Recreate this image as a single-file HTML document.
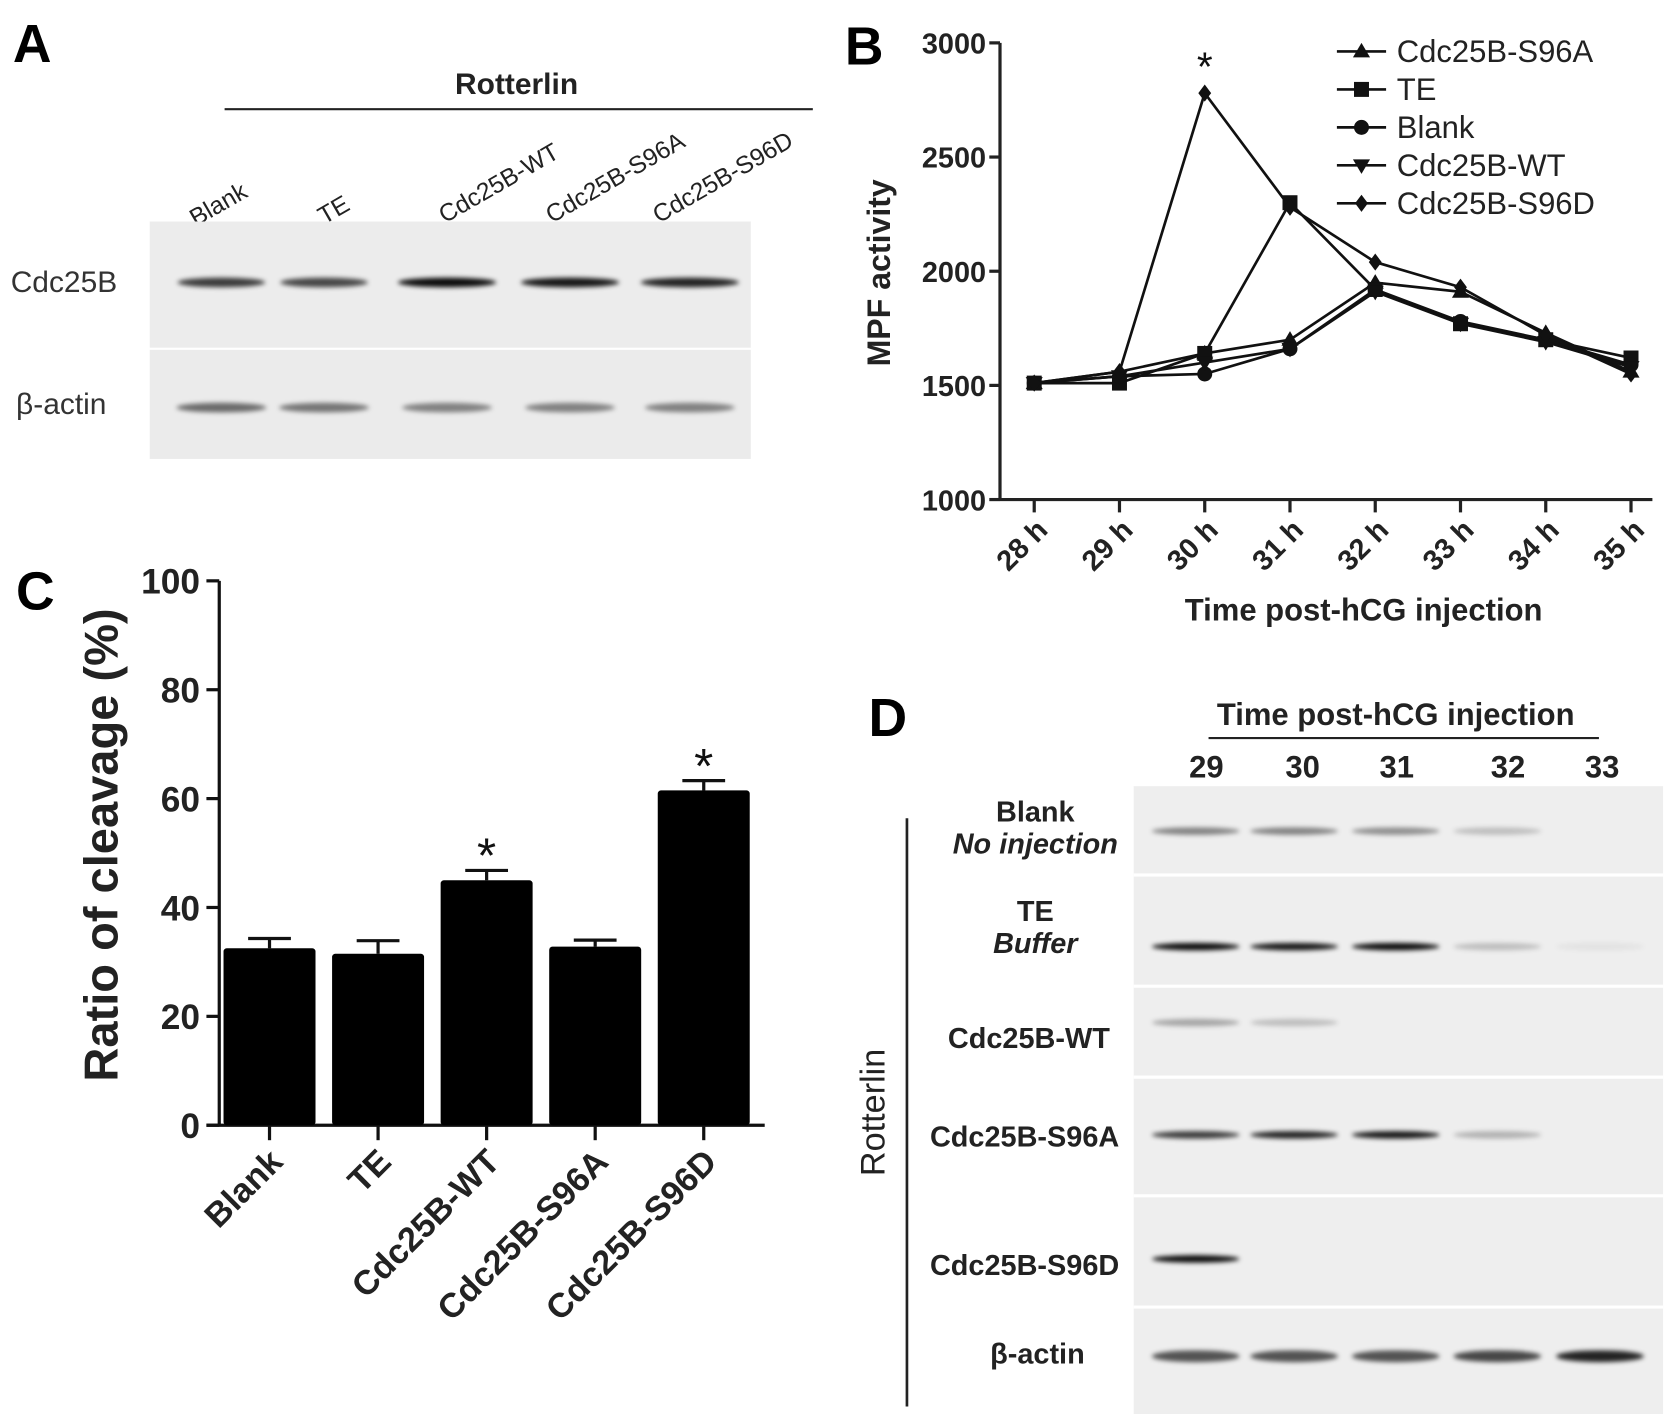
<!DOCTYPE html>
<html><head><meta charset="utf-8">
<style>
html,body{margin:0;padding:0;background:#fff;}
svg{display:block;font-family:"Liberation Sans",Arial,sans-serif;}
</style></head>
<body>
<svg id="fig" width="1677" height="1428" viewBox="0 0 1568 1335" xmlns="http://www.w3.org/2000/svg">
<defs>
<filter id="blur" x="-20%" y="-200%" width="140%" height="500%"><feGaussianBlur stdDeviation="2.2"/></filter>
</defs>
<!-- Panel A -->
<g>
<text x="12" y="58" font-size="50" font-weight="bold">A</text>
<text x="483" y="88" font-size="28" text-anchor="middle" font-weight="bold" fill="#222">Rotterlin</text>
<line x1="210" y1="102" x2="760" y2="102" stroke="#222" stroke-width="2"/>
<g font-size="23" fill="#222">
<text transform="translate(183,212) rotate(-30)">Blank</text>
<text transform="translate(303,210) rotate(-30)">TE</text>
<text transform="translate(416,209) rotate(-30)">Cdc25B-WT</text>
<text transform="translate(516,209) rotate(-30)">Cdc25B-S96A</text>
<text transform="translate(616,209) rotate(-30)">Cdc25B-S96D</text>
</g>
<rect x="140" y="207" width="562" height="118" fill="#ececec"/>
<rect x="140" y="327" width="562" height="102" fill="#ebebeb"/>
<text x="10" y="273" font-size="28" fill="#333">Cdc25B</text>
<text x="15" y="387" font-size="28" fill="#333">β-actin</text>
<g id="bandsA" filter="url(#blur)"></g>
</g>

<!-- Panel B -->
<g>
<text x="790" y="60" font-size="50" font-weight="bold">B</text>
<g id="chartB"></g>
</g>

<!-- Panel C -->
<g>
<text x="15" y="570" font-size="50" font-weight="bold">C</text>
<g id="chartC"></g>
</g>

<!-- Panel D -->
<g>
<text x="812" y="688" font-size="50" font-weight="bold">D</text>
<text x="1305" y="678" font-size="29" text-anchor="middle" font-weight="bold" fill="#222">Time post-hCG injection</text>
<line x1="1130" y1="690" x2="1495" y2="690" stroke="#222" stroke-width="2"/>
<rect x="1060" y="735" width="495" height="587" fill="#eeeeee"/>
<g stroke="#fff" stroke-width="3">
<line x1="1060" y1="818" x2="1555" y2="818"/><line x1="1060" y1="922" x2="1555" y2="922"/>
<line x1="1060" y1="1007" x2="1555" y2="1007"/><line x1="1060" y1="1118" x2="1555" y2="1118"/>
<line x1="1060" y1="1222" x2="1555" y2="1222"/>
</g>
<line x1="848" y1="765" x2="848" y2="1315" stroke="#222" stroke-width="2.5"/>
<text transform="translate(827,1040) rotate(-90)" font-size="32" text-anchor="middle" fill="#222">Rotterlin</text>
<g font-size="27" text-anchor="middle" font-weight="bold" fill="#222">
<text x="968" y="768">Blank</text>
<text x="968" y="798" font-style="italic">No injection</text>
<text x="968" y="861">TE</text>
<text x="968" y="891" font-style="italic">Buffer</text>
<text x="962" y="980">Cdc25B-WT</text>
<text x="958" y="1072">Cdc25B-S96A</text>
<text x="958" y="1192">Cdc25B-S96D</text>
<text x="970" y="1275">β-actin</text>
</g>
<g id="lanesD" font-size="29" text-anchor="middle" font-weight="bold" fill="#222"></g>
<g id="bandsD" filter="url(#blur)"></g>
</g>
</svg>
<script>
var NS="http://www.w3.org/2000/svg";
function mk(tag,attrs,parent){var e=document.createElementNS(NS,tag);for(var k in attrs)e.setAttribute(k,attrs[k]);parent.appendChild(e);return e;}

// ---------- Chart B data ----------
var timeLabels=["28 h","29 h","30 h","31 h","32 h","33 h","34 h","35 h"];
var bTicks=[1000,1500,2000,2500,3000];
var seriesNames=["Cdc25B-S96A","TE","Blank","Cdc25B-WT","Cdc25B-S96D"];
var seriesMarkers=["tri","sq","circ","itri","diam"];
var s96aVals=[1510,1560,1640,1700,1950,1910,1730,1560];
var teVals=[1510,1510,1640,2300,1920,1770,1700,1620];
var blankVals=[1510,1540,1550,1660,1920,1780,1700,1590];
var wtVals=[1510,1540,1600,1660,1910,1770,1690,1580];
var s96dVals=[1510,1560,2780,2280,2040,1930,1720,1550];
var allSeries=[s96aVals,teVals,blankVals,wtVals,s96dVals];

// ---------- Chart C data ----------
var cCats=["Blank","TE","Cdc25B-WT","Cdc25B-S96A","Cdc25B-S96D"];
var cVals=[32.5,31.5,45,32.8,61.5];
var cErr=[1.8,2.4,1.8,1.2,1.8];
var cSig=[false,false,true,false,true];
var cTicks=[0,20,40,60,80,100];

// ---------- Blot data ----------
var bandsACdc=[0.75,0.7,0.95,0.9,0.85];
var bandsAActin=[0.55,0.5,0.45,0.45,0.45];
var dLanes=["29","30","31","32","33"];
var dBlank=[0.45,0.45,0.4,0.2,0];
var dTE=[0.95,0.9,0.95,0.2,0.05];
var dWT=[0.3,0.2,0,0,0];
var dS96A=[0.75,0.85,0.9,0.25,0];
var dS96D=[0.95,0,0,0,0];
var dActin=[0.65,0.65,0.65,0.7,0.85];

// ----- Chart B -----
(function(){
var g=document.getElementById('chartB');
var X0=967,X1=1525,Y0=467,Y1=40,ax=935;
function x(i){return X0+(X1-X0)*i/(timeLabels.length-1);}
function y(v){return Y0-(v-1000)/2000*(Y0-Y1);}
var axes=mk('g',{},g);


mk('line',{x1:ax,y1:y(3000),x2:ax,y2:Y0,stroke:'#222','stroke-width':3},axes);
mk('line',{x1:ax,y1:Y0,x2:1545,y2:Y0,stroke:'#222','stroke-width':3},axes);
bTicks.forEach(function(t){
 mk('line',{x1:ax-10,y1:y(t),x2:ax,y2:y(t),stroke:'#222','stroke-width':3},axes);
 var tx=mk('text',{x:ax-13,y:y(t)+10,'font-size':27,'font-weight':'bold','text-anchor':'end',fill:'#222'},axes);tx.textContent=t;
 
 
});
timeLabels.forEach(function(l,i){
 mk('line',{x1:x(i),y1:Y0,x2:x(i),y2:Y0+12,stroke:'#222','stroke-width':3},axes);
 var tx=mk('text',{transform:'translate('+(x(i)+14)+','+(Y0+30)+') rotate(-45)','font-size':27,'font-weight':'bold','text-anchor':'end',fill:'#222'},axes);tx.textContent=l;
 
 
});
var yl=mk('text',{transform:'translate(832,255) rotate(-90)','font-size':30,'font-weight':'bold','text-anchor':'middle',fill:'#222'},g);yl.textContent='MPF activity';


var xl=mk('text',{x:1275,y:580,'font-size':29,'font-weight':'bold','text-anchor':'middle',fill:'#222'},g);xl.textContent='Time post-hCG injection';


function marker(type,cx,cy,par){
 var s=8;
 if(type=='tri')return mk('polygon',{points:(cx)+','+(cy-s)+' '+(cx-s)+','+(cy+s*0.7)+' '+(cx+s)+','+(cy+s*0.7),fill:'#111'},par);
 if(type=='itri')return mk('polygon',{points:(cx)+','+(cy+s)+' '+(cx-s)+','+(cy-s*0.7)+' '+(cx+s)+','+(cy-s*0.7),fill:'#111'},par);
 if(type=='sq')return mk('rect',{x:cx-7,y:cy-7,width:14,height:14,fill:'#111'},par);
 if(type=='circ')return mk('circle',{cx:cx,cy:cy,r:7,fill:'#111'},par);
 return mk('polygon',{points:cx+','+(cy-8)+' '+(cx+6)+','+cy+' '+cx+','+(cy+8)+' '+(cx-6)+','+cy,fill:'#111'},par);
}
allSeries.forEach(function(vals,si){
 var sg=mk('g',{},g);
 
 
 var pts=vals.map(function(v,i){return x(i)+','+y(v);}).join(' ');
 mk('polyline',{points:pts,fill:'none',stroke:'#111','stroke-width':2.5},sg);
 vals.forEach(function(v,i){var m=marker(seriesMarkers[si],x(i),y(v),sg);
  
  });
});
var st=mk('text',{x:x(2),y:y(s96dVals[2])-12,'font-size':38,'text-anchor':'middle',fill:'#111'},g);st.textContent='*';


var lg=mk('g',{},g);


seriesNames.forEach(function(n,i){
 var ly=48+i*35.5;
 var e=mk('g',{},lg);
 
 
 mk('line',{x1:1250,y1:ly,x2:1296,y2:ly,stroke:'#111','stroke-width':2.5},e);
 marker(seriesMarkers[i],1273,ly,e);
 var t=mk('text',{x:1306,y:ly+10,'font-size':29,fill:'#222'},e);t.textContent=n;
});
})();

// ----- Chart C -----
(function(){
var g=document.getElementById('chartC');
var ax=205,Y0=1052,Y1=543;
function y(v){return Y0-v/100*(Y0-Y1);}
function xc(i){return 252+i*101.5;}
var axes=mk('g',{},g);


mk('line',{x1:ax,y1:Y1,x2:ax,y2:Y0,stroke:'#111','stroke-width':3},axes);
mk('line',{x1:ax-12,y1:Y0,x2:715,y2:Y0,stroke:'#111','stroke-width':3},axes);
cTicks.forEach(function(t){
 mk('line',{x1:ax-12,y1:y(t),x2:ax,y2:y(t),stroke:'#111','stroke-width':3},axes);
 var tx=mk('text',{x:ax-18,y:y(t)+12,'font-size':33,'font-weight':'bold','text-anchor':'end',fill:'#222'},axes);tx.textContent=t;
 
 
});
var yl=mk('text',{transform:'translate(110,790) rotate(-90)','font-size':44,'font-weight':'bold','text-anchor':'middle',fill:'#222'},g);yl.textContent='Ratio of cleavage (%)';


cCats.forEach(function(c,i){
 var bx=xc(i);
 var eb=mk('g',{},g);
 
 
 mk('line',{x1:bx,y1:y(cVals[i]),x2:bx,y2:y(cVals[i]+cErr[i]),stroke:'#111','stroke-width':3},eb);
 mk('line',{x1:bx-20,y1:y(cVals[i]+cErr[i]),x2:bx+20,y2:y(cVals[i]+cErr[i]),stroke:'#111','stroke-width':3},eb);
 var r=mk('rect',{x:bx-43,y:y(cVals[i]),width:86,height:Y0-y(cVals[i]),fill:'#000',rx:3},g);
 
 
 mk('line',{x1:bx,y1:Y0,x2:bx,y2:Y0+14,stroke:'#111','stroke-width':3},axes);
 var tx=mk('text',{transform:'translate('+(bx+14)+','+(Y0+36)+') rotate(-45)','font-size':32,'font-weight':'bold','text-anchor':'end',fill:'#222'},g);tx.textContent=c;
 
 
 if(cSig[i]){var s=mk('text',{x:bx,y:y(cVals[i]+cErr[i])+2,'font-size':46,'text-anchor':'middle',fill:'#111'},g);s.textContent='*';
  
  }
});
})();

// ----- Blot bands -----
function band(par,cx,cy,w,h,a){
 if(a<=0)return;
 var e=mk('ellipse',{cx:cx,cy:cy,rx:w/2,ry:h/2,fill:'#000','fill-opacity':a},par);
 
 
}
(function(){
var g=document.getElementById('bandsA');
var lx=[207,303,418,533,645];
bandsACdc.forEach(function(a,i){band(g,lx[i],264,i>=2?92:82,9,a);});
bandsAActin.forEach(function(a,i){band(g,lx[i],381,84,9,a);});
})();
(function(){
var g=document.getElementById('bandsD');
var lt=document.getElementById('lanesD');
var lx=[1118,1210,1305,1400,1496];
var rows=[[dBlank,777],[dTE,885],[dWT,956],[dS96A,1061],[dS96D,1177],[dActin,1268]];
dLanes.forEach(function(l,i){var t=mk('text',{x:[1128,1218,1306,1410,1498][i],y:727},lt);t.textContent=l;
 
 });
rows.forEach(function(r){r[0].forEach(function(a,i){band(g,lx[i],r[1],82,r[1]==1268?11:7,a);});});
})();
</script>
</body></html>
